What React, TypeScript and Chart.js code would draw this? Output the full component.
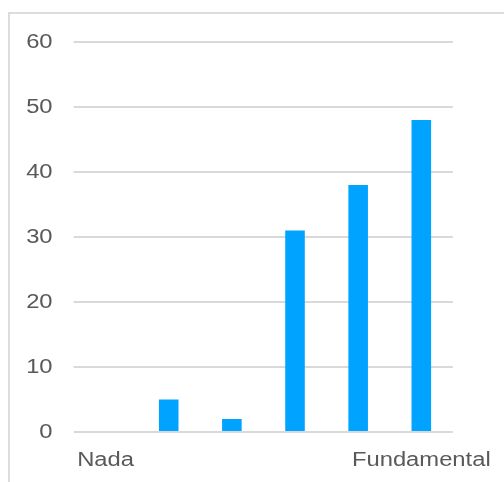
import React, { useEffect, useRef } from "react";
import { Chart, registerables } from "chart.js";

Chart.register(...registerables);

// Category axis: only the two ends of the scale carry a label
const tickLabels = ["Nada", "", "", "", "", "Fundamental"];
// Responses per level
const responses = [0, 5, 2, 31, 38, 48];
// Value axis
const yMin = 0;
const yMax = 60;
const yStep = 10;

const OUT_W = 504;
const OUT_H = 482;
const LOGICAL_W = 424;
const SX = OUT_W / LOGICAL_W; // wide horizontal rendering

const FONT = { family: "'Liberation Sans', Arial, sans-serif", size: 20 };
const TEXT = "#595959";
const GRID = "#d9d9d9";
const BAR = "#00A3FF";

const widen = {
  id: "widen",
  beforeDraw(chart: Chart) {
    chart.ctx.setTransform(SX, 0, 0, 1, 0, 0);
  },
  afterDraw(chart: Chart) {
    chart.ctx.setTransform(1, 0, 0, 1, 0, 0);
  },
};

export default function App() {
  const canvasRef = useRef<HTMLCanvasElement | null>(null);

  useEffect(() => {
    const canvas = canvasRef.current;
    if (!canvas) return;
    const chart = new Chart(canvas, {
      type: "bar",
      data: {
        labels: tickLabels,
        datasets: [
          {
            data: responses,
            backgroundColor: BAR,
            borderWidth: 0,
            categoryPercentage: 1,
            barPercentage: 0.31,
          },
        ],
      },
      options: {
        animation: false,
        responsive: false,
        devicePixelRatio: 1,
        layout: { padding: { left: 4, right: 43, top: 42, bottom: 0 } },
        plugins: {
          legend: { display: false },
          tooltip: { enabled: false },
          title: { display: false },
        },
        scales: {
          x: {
            grid: { display: false, drawTicks: false },
            border: { display: false },
            ticks: {
              font: FONT,
              color: TEXT,
              autoSkip: false,
              maxRotation: 0,
              padding: 16,
            },
            afterFit(scale: any) {
              scale.height = 50;
              scale.paddingLeft = 0;
              scale.paddingRight = 0;
            },
          },
          y: {
            min: yMin,
            max: yMax,
            grid: { color: GRID, lineWidth: 2, drawTicks: false },
            border: { display: false },
            ticks: {
              stepSize: yStep,
              font: FONT,
              color: TEXT,
              padding: 18,
            },
          },
        },
      },
      plugins: [widen],
    });
    // redraw onto a full-width bitmap with the horizontal stretch applied
    canvas.width = OUT_W;
    canvas.height = OUT_H;
    chart.draw();
    return () => chart.destroy();
  }, []);

  return (
    <div
      style={{
        position: "absolute",
        left: 0,
        top: 0,
        width: OUT_W,
        height: OUT_H,
        overflow: "hidden",
        background: "#ffffff",
      }}
    >
      <div
        style={{
          position: "absolute",
          left: 8,
          top: 12,
          width: 700,
          height: 700,
          border: "2px solid #dcdcdc",
          boxSizing: "border-box",
        }}
      />
      <canvas
        ref={canvasRef}
        width={LOGICAL_W}
        height={OUT_H}
        style={{ position: "absolute", left: 0, top: 0, width: OUT_W + "px", height: OUT_H + "px" }}
      />
    </div>
  );
}
